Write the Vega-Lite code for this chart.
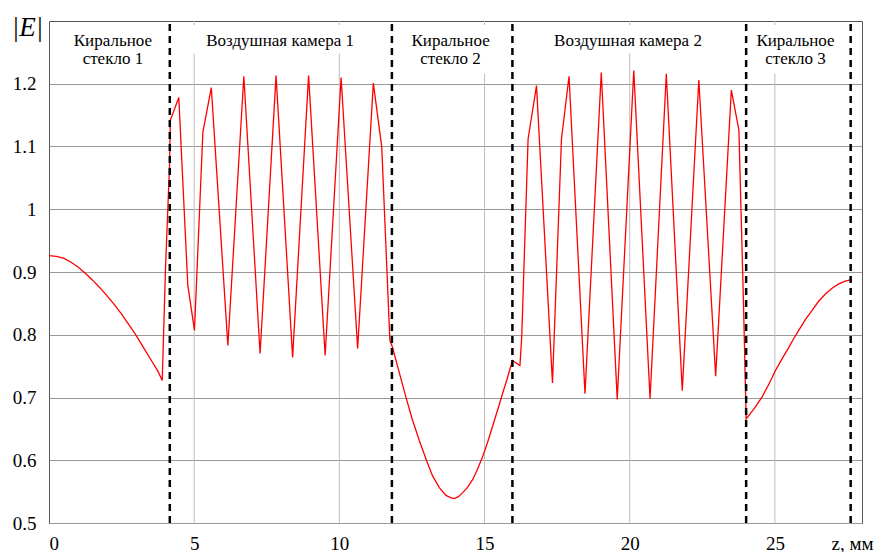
{
  "$schema": "https://vega.github.io/schema/vega-lite/v6.json",
  "width": 813,
  "height": 502,
  "autosize": {"type": "none"},
  "padding": {"left": 49, "top": 21, "right": 13, "bottom": 29},
  "background": "white",
  "config": {
    "view": {"stroke": "#555555", "strokeWidth": 1},
    "font": "Times New Roman",
    "axis": {"labelFont": "Times New Roman", "titleFont": "Times New Roman"},
    "text": {"font": "Times New Roman"}
  },
  "encoding": {
    "x": {
      "field": "z", "type": "quantitative",
      "scale": {"domain": [0, 28], "nice": false, "zero": false},
      "axis": {
        "values": [0, 5, 10, 15, 20, 25], "grid": false, "domain": false, "ticks": false,
        "labelFontSize": 19, "labelColor": "black", "labelPadding": 11,
        "title": "z, мм", "titleFontSize": 19, "titleFontWeight": "normal",
        "titleColor": "black", "titleAnchor": "end", "titleAlign": "right", "titleBaseline": "alphabetic",
        "titleX": 824, "titleY": 26
      }
    },
    "y": {
      "field": "E", "type": "quantitative",
      "scale": {"domain": [0.5, 1.3], "nice": false, "zero": false},
      "axis": {
        "values": [0.5, 0.6, 0.7, 0.8, 0.9, 1, 1.1, 1.2], "grid": true, "gridColor": "#999999", "gridWidth": 1,
        "domain": false, "ticks": false,
        "labelExpr": "datum.value == 1 ? '1' : datum.label",
        "labelFontSize": 19, "labelColor": "black", "labelPadding": 13,
        "title": "|E|", "titleAngle": 0, "titleX": -22, "titleY": 6, "titleAlign": "center", "titleBaseline": "middle",
        "titleFontSize": 27, "titleFontStyle": "italic", "titleFontWeight": "normal", "titleColor": "black"
      }
    }
  },
  "layer": [
    {
      "data": {"values": [
        {"z": 5, "E": 0.5, "E2": 1.248}, {"z": 10, "E": 0.5, "E2": 1.248}, {"z": 15, "E": 0.5, "E2": 1.216},
        {"z": 20, "E": 0.5, "E2": 1.248}, {"z": 25, "E": 0.5, "E2": 1.216},
        {"z": 5, "E": 1.2936, "E2": 1.3}, {"z": 10, "E": 1.2936, "E2": 1.3}, {"z": 15, "E": 1.2936, "E2": 1.3},
        {"z": 20, "E": 1.2936, "E2": 1.3}, {"z": 25, "E": 1.2936, "E2": 1.3}
      ]},
      "mark": {"type": "rule", "color": "#bdbdbd", "strokeWidth": 1},
      "encoding": {"y2": {"field": "E2"}}
    },
    {
      "data": {"values": [
        {"z": 0, "E": 0.926}, {"z": 0.25, "E": 0.925}, {"z": 0.5, "E": 0.922}, {"z": 0.75, "E": 0.916},
        {"z": 1.0, "E": 0.908}, {"z": 1.25, "E": 0.898}, {"z": 1.5, "E": 0.887}, {"z": 1.75, "E": 0.875},
        {"z": 2.0, "E": 0.862}, {"z": 2.25, "E": 0.848}, {"z": 2.5, "E": 0.833}, {"z": 2.75, "E": 0.816},
        {"z": 3.0, "E": 0.799}, {"z": 3.25, "E": 0.780}, {"z": 3.5, "E": 0.761}, {"z": 3.75, "E": 0.742},
        {"z": 3.9, "E": 0.727},
        {"z": 4.01, "E": 0.902}, {"z": 4.09, "E": 0.998}, {"z": 4.15, "E": 1.067}, {"z": 4.18, "E": 1.142},
        {"z": 4.47, "E": 1.178}, {"z": 4.78, "E": 0.879}, {"z": 5.01, "E": 0.807}, {"z": 5.30, "E": 1.123},
        {"z": 5.59, "E": 1.194}, {"z": 6.16, "E": 0.783}, {"z": 6.71, "E": 1.212}, {"z": 7.27, "E": 0.770},
        {"z": 7.82, "E": 1.213}, {"z": 8.39, "E": 0.764}, {"z": 8.94, "E": 1.213}, {"z": 9.51, "E": 0.767},
        {"z": 10.06, "E": 1.21}, {"z": 10.63, "E": 0.778}, {"z": 11.17, "E": 1.201}, {"z": 11.46, "E": 1.099},
        {"z": 11.74, "E": 0.791}, {"z": 11.83, "E": 0.780},
        {"z": 12.05, "E": 0.742}, {"z": 12.29, "E": 0.701}, {"z": 12.5, "E": 0.667}, {"z": 12.75, "E": 0.632},
        {"z": 13.0, "E": 0.600}, {"z": 13.21, "E": 0.575}, {"z": 13.45, "E": 0.556}, {"z": 13.67, "E": 0.544},
        {"z": 13.85, "E": 0.540}, {"z": 13.96, "E": 0.539}, {"z": 14.1, "E": 0.542}, {"z": 14.24, "E": 0.548},
        {"z": 14.4, "E": 0.556}, {"z": 14.59, "E": 0.569}, {"z": 14.75, "E": 0.585}, {"z": 14.93, "E": 0.605},
        {"z": 15.1, "E": 0.628}, {"z": 15.27, "E": 0.653}, {"z": 15.45, "E": 0.680}, {"z": 15.62, "E": 0.706},
        {"z": 15.8, "E": 0.733}, {"z": 15.96, "E": 0.759}, {"z": 16.22, "E": 0.751},
        {"z": 16.28, "E": 0.796}, {"z": 16.50, "E": 1.112}, {"z": 16.79, "E": 1.197}, {"z": 17.34, "E": 0.723},
        {"z": 17.65, "E": 1.112}, {"z": 17.91, "E": 1.212}, {"z": 18.46, "E": 0.706}, {"z": 19.02, "E": 1.218},
        {"z": 19.57, "E": 0.697}, {"z": 20.14, "E": 1.221}, {"z": 20.70, "E": 0.698}, {"z": 21.26, "E": 1.216},
        {"z": 21.81, "E": 0.711}, {"z": 22.38, "E": 1.206}, {"z": 22.96, "E": 0.734}, {"z": 23.50, "E": 1.19},
        {"z": 23.76, "E": 1.126}, {"z": 23.88, "E": 0.918}, {"z": 23.93, "E": 0.828}, {"z": 24.01, "E": 0.666},
        {"z": 24.3, "E": 0.683}, {"z": 24.56, "E": 0.701}, {"z": 24.8, "E": 0.722}, {"z": 25.02, "E": 0.743},
        {"z": 25.25, "E": 0.762}, {"z": 25.48, "E": 0.780}, {"z": 25.65, "E": 0.794}, {"z": 25.82, "E": 0.807},
        {"z": 26.05, "E": 0.824}, {"z": 26.28, "E": 0.839}, {"z": 26.5, "E": 0.853}, {"z": 26.74, "E": 0.865},
        {"z": 26.97, "E": 0.874}, {"z": 27.2, "E": 0.881}, {"z": 27.4, "E": 0.885}, {"z": 27.62, "E": 0.888}
      ]},
      "mark": {"type": "line", "color": "#ff0000", "strokeWidth": 1.3, "interpolate": "linear"}
    },
    {
      "data": {"values": [
        {"z": 4.16, "E": 0.5, "E2": 1.3}, {"z": 11.81, "E": 0.5, "E2": 1.3}, {"z": 15.96, "E": 0.5, "E2": 1.3},
        {"z": 24.01, "E": 0.5, "E2": 1.3}, {"z": 27.61, "E": 0.5, "E2": 1.3}
      ]},
      "mark": {"type": "rule", "color": "black", "strokeWidth": 2.5, "strokeDash": [7, 5]},
      "encoding": {"y2": {"field": "E2"}}
    },
    {
      "data": {"values": [
        {"z": 2.2, "E": 1.2594, "label": "Киральное"}, {"z": 2.2, "E": 1.2307, "label": "стекло 1"},
        {"z": 7.96, "E": 1.2594, "label": "Воздушная камера 1"},
        {"z": 13.83, "E": 1.2594, "label": "Киральное"}, {"z": 13.83, "E": 1.2307, "label": "стекло 2"},
        {"z": 19.94, "E": 1.2594, "label": "Воздушная камера 2"},
        {"z": 25.71, "E": 1.2594, "label": "Киральное"}, {"z": 25.71, "E": 1.2307, "label": "стекло 3"}
      ]},
      "mark": {"type": "text", "font": "Times New Roman", "fontSize": 17, "align": "center", "baseline": "alphabetic", "color": "black"},
      "encoding": {"text": {"field": "label"}}
    }
  ]
}
